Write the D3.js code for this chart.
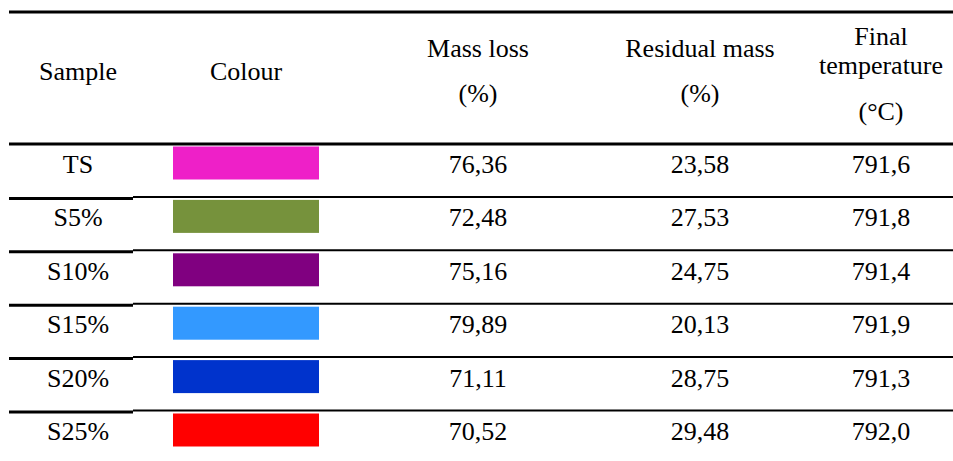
<!DOCTYPE html>
<html>
<head>
<meta charset="utf-8">
<script src="https://cdn.jsdelivr.net/npm/d3@7"></script>
<style>
  body { margin: 0; background: #fff; }
</style>
</head>
<body>
<svg id="chart" width="953" height="461"></svg>
<script>
// table data
const samples = ["TS", "S5%", "S10%", "S15%", "S20%", "S25%"];
const colours = ["#ee20c8", "#76923c", "#800080", "#3399ff", "#0033cc", "#ff0000"];
const massLoss = [76.36, 72.48, 75.16, 79.89, 71.11, 70.52];
const residualMass = [23.58, 27.53, 24.75, 20.13, 28.75, 29.48];
const finalTemp = [791.6, 791.8, 791.4, 791.9, 791.3, 792.0];

const svg = d3.select("#chart");
const W = 953;
const left = 9;
const FONT = "Liberation Serif, Times New Roman, serif";

// decimal comma formatting
const locale = d3.formatLocale({ decimal: ",", thousands: ".", grouping: [3], currency: ["", ""] });
const f2 = locale.format(".2f");
const f1 = locale.format(".1f");

// row positions
const headerBottom = 144;
const rowH = 53.4;
const y = d3.scaleBand()
    .domain(samples)
    .range([headerBottom, headerBottom + rowH * samples.length])
    .padding(0);

// column centers
const colX = { sample: 78, colour: 246, mass: 478, resid: 700, temp: 881 };

function addText(sel, x, yy, txt) {
    return sel.append("text")
        .attr("x", x).attr("y", yy)
        .attr("text-anchor", "middle")
        .attr("font-family", FONT)
        .attr("font-size", 26)
        .attr("fill", "#000")
        .text(txt);
}

// header lines
svg.append("line")
    .attr("x1", left).attr("x2", W)
    .attr("y1", 12).attr("y2", 12)
    .attr("stroke", "#000").attr("stroke-width", 3);
svg.append("line")
    .attr("x1", left).attr("x2", W)
    .attr("y1", headerBottom).attr("y2", headerBottom)
    .attr("stroke", "#000").attr("stroke-width", 3);

// header text
const headers = [
    { x: colX.sample, lines: [["Sample", 80]] },
    { x: colX.colour, lines: [["Colour", 80]] },
    { x: colX.mass, lines: [["Mass loss", 57], ["(%)", 102]] },
    { x: colX.resid, lines: [["Residual mass", 57], ["(%)", 102]] },
    { x: colX.temp, lines: [["Final", 45], ["temperature", 74], ["(\u00b0C)", 120]] }
];
headers.forEach(h => {
    h.lines.forEach(l => addText(svg, h.x, l[1], l[0]));
});

// row separator lines (skip first, that is the header line)
samples.slice(1).forEach(s => {
    const yy = y(s);
    svg.append("line")
        .attr("x1", left).attr("x2", 133)
        .attr("y1", yy + 1).attr("y2", yy + 1)
        .attr("stroke", "#000").attr("stroke-width", 3);
    svg.append("line")
        .attr("x1", 133).attr("x2", W)
        .attr("y1", yy - 0.5).attr("y2", yy - 0.5)
        .attr("stroke", "#000").attr("stroke-width", 2);
});

// rows
const rows = svg.selectAll("g.row")
    .data(samples.map((s, i) => ({ s, c: colours[i], m: massLoss[i], r: residualMass[i], t: finalTemp[i] })))
    .join("g")
    .attr("class", "row")
    .attr("transform", d => `translate(0,${y(d.s)})`);

rows.append("rect")
    .attr("x", 173).attr("width", 146)
    .attr("y", 2.5).attr("height", 33)
    .attr("fill", d => d.c);

const base = 29;
rows.each(function(d) {
    const g = d3.select(this);
    addText(g, colX.sample, base, d.s);
    addText(g, colX.mass, base, f2(d.m));
    addText(g, colX.resid, base, f2(d.r));
    addText(g, colX.temp, base, f1(d.t));
});
</script>
</body>
</html>
